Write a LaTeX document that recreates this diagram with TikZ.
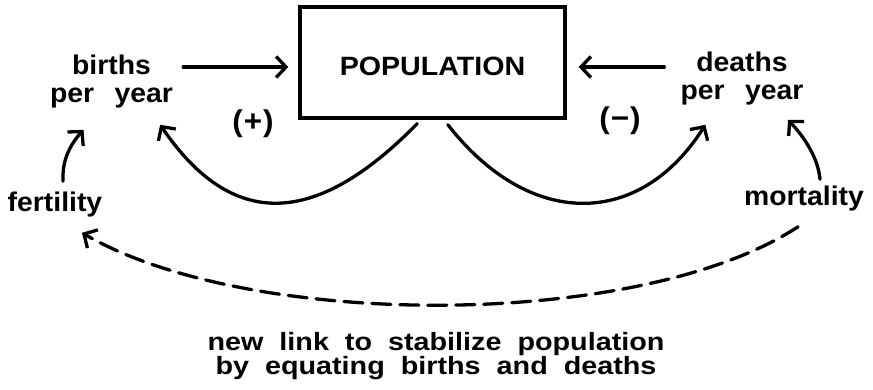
\documentclass[tikz,border=0pt]{standalone}
\usepackage{fontspec}
\setmainfont{Liberation Sans}
\newfontfamily\labfont{Liberation Sans}[WordSpace=2.6,FakeStretch=1.05]
\newfontfamily\notefont{Liberation Sans}[WordSpace=2.0,FakeStretch=1.15]
\newfontfamily\popfont{Liberation Sans}[FakeStretch=1.08]
\usetikzlibrary{arrows.meta}
\begin{document}
\begin{tikzpicture}[x=1pt,y=-1pt,
  lbl/.style={font=\labfont\bfseries\fontsize{27}{28}\selectfont, inner sep=0pt, align=center},
  sign/.style={font=\labfont\bfseries\fontsize{30}{30}\selectfont, inner sep=0pt},
  note/.style={font=\notefont\bfseries\fontsize{25}{24.5}\selectfont, inner sep=0pt, align=center},
  arr/.style={line width=3.3pt, line cap=round, -{Straight Barb[length=10pt,width=21pt]}},
  dsh/.style={arr, dash pattern=on 19pt off 9pt},
  box/.style={draw, line width=3.3pt, minimum width=265pt, minimum height=111pt, inner sep=0pt,
    text height=25pt, text depth=0pt, font=\popfont\bfseries\fontsize{26.5}{30}\selectfont}]
\useasboundingbox (0,0) rectangle (873,389);
\fill[white] (0,0) rectangle (873,389);
% nodes
\node[box] (pop) at (432.5,62.5) {POPULATION};
\node[lbl] (births) at (111.5,82) {births\\per year};
\node[lbl] (deaths) at (742,79) {deaths\\per year};
\node[lbl, anchor=base] (fert) at (55,211) {fertility};
\node[lbl, anchor=base] (mort) at (804,205) {mortality};
\node[sign] (plus) at (253,124) {(\kern1pt+\kern1pt)};
\node[sign] (minus) at (620,121) {(\kern1pt−\kern1pt)};
\node[note] (link) at (436,356) {new link to stabilize population\\by equating births and deaths};
% connectors
\draw[arr] ([shift={(10pt,15pt)}]births.east) -- ([shift={(-10pt,-4.5pt)}]pop.west);
\draw[arr] ([shift={(-16pt,12pt)}]deaths.west) -- ([shift={(12pt,-4.5pt)}]pop.east);
\draw[arr] ([yshift=-4pt]pop.255) .. controls (315,228) and (232,230) .. ([shift={(-13pt,-16pt)}]births.south east);
\draw[arr] ([yshift=-5pt]pop.285) .. controls (530,230) and (640,228) .. ([shift={(25pt,-19pt)}]deaths.south west);
\draw[arr] ([shift={(8pt,10pt)}]fert.north) .. controls (62,160) and (70,145) .. ([shift={(-28pt,-21pt)}]births.south);
\draw[arr] ([shift={(16pt,6pt)}]mort.north) .. controls (818,158) and (805,138) .. ([shift={(46pt,-14pt)}]deaths.south);
\draw[dsh] ([shift={(-6pt,-16pt)}]mort.south) .. controls (640,330) and (250,330) .. ([shift={(27pt,-16pt)}]fert.south);
\end{tikzpicture}
\end{document}
